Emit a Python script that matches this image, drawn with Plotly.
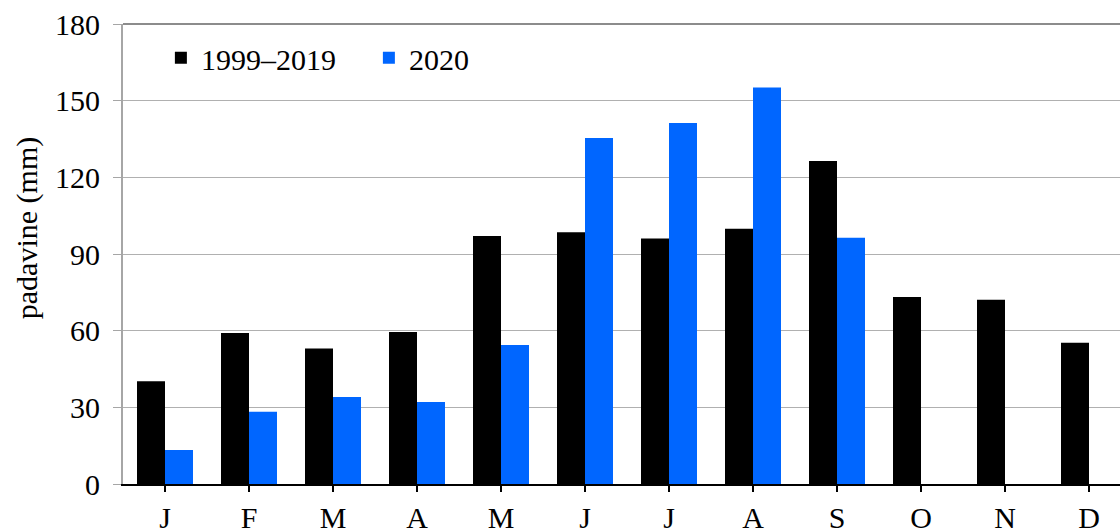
import plotly.graph_objects as go

months = ['J', 'F', 'M', 'A', 'M', 'J', 'J', 'A', 'S', 'O', 'N', 'D']
avg_1999_2019 = [40.2, 59.1, 53.0, 59.5, 97.0, 98.5, 96.1, 99.9, 126.4, 73.2, 72.1, 55.3]
rain_2020 = [13.3, 28.3, 34.0, 32.1, 54.4, 135.4, 141.3, 155.2, 96.4, None, None, None]

# positional x so repeated month letters stay separate categories
idx = list(range(len(months)))

FONT = '"Liberation Serif", "Times New Roman", serif'
FS = 30

fig = go.Figure()
fig.add_trace(go.Bar(x=idx, y=avg_1999_2019, name='1999–2019',
                     marker=dict(color='#000000', line=dict(width=0))))
fig.add_trace(go.Bar(x=idx, y=rain_2020, name='2020',
                     marker=dict(color='#0066ff', line=dict(width=0))))

fig.update_layout(
    width=1120, height=529,
    margin=dict(l=123, r=0, t=24, b=45),
    paper_bgcolor='white', plot_bgcolor='white',
    font=dict(family=FONT, size=FS, color='black'),
    barmode='group', bargap=1/3, bargroupgap=0,
    showlegend=True,
    legend=dict(orientation='h', x=0.038, y=0.983, xanchor='left', yanchor='top',
                bgcolor='rgba(0,0,0,0)', font=dict(size=FS),
                entrywidth=163, entrywidthmode='pixels', itemwidth=30),
)

fig.update_xaxes(
    tickmode='array', tickvals=idx, ticktext=months,
    range=[-0.5, -0.5 + 997 / 84],  # last month is cut by the right edge
    showline=True, linecolor='black', linewidth=2,
    ticks='outside', tickson='boundaries', ticklen=6, tickcolor='black', tickwidth=1.5,
    showgrid=False, zeroline=False, automargin=False,
    tickfont=dict(size=FS), ticklabelstandoff=0,
)
fig.update_yaxes(
    range=[0, 180], tickmode='linear', tick0=0, dtick=30,
    showline=True, linecolor='#a6a6a6', linewidth=2,
    ticks='outside', ticklen=8, tickcolor='#a6a6a6', tickwidth=1,
    showgrid=True, gridcolor='#b0b0b0', gridwidth=1, zeroline=False, automargin=False,
    tickfont=dict(size=FS), ticklabelstandoff=7,
)

# darker frame line along the top of the plot area
fig.add_shape(type='line', xref='paper', yref='paper', x0=0, x1=1, y0=1, y1=1,
              line=dict(color='#8c8c8c', width=2))

fig.add_annotation(text='padavine (mm)', xref='paper', yref='paper',
                   x=-0.0963, y=0.556, xanchor='center', yanchor='middle',
                   textangle=-90, showarrow=False, font=dict(size=FS))

# drop the default 8px body margin so the figure sits at the page corner
fig.write_html('out.html', config={'displayModeBar': False},
               post_script="document.body.style.margin='0px';")
